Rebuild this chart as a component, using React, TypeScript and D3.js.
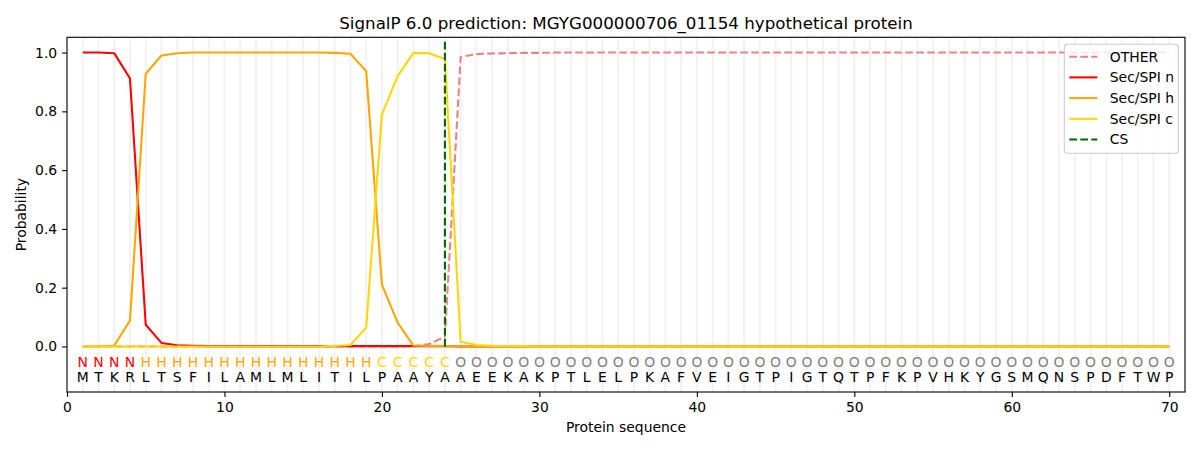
import { useRef, useEffect } from 'react';
import * as d3 from 'd3';

// residue sequence and predicted region per residue
const sequence = 'MTKRLTSFILAMLMLITILPAAYAAEEKAKPTLELPKAFVEIGTPIGTQTPFKPVHKYGSMQNSPDFTWP'.split('');
const regions = 'NNNNHHHHHHHHHHHHHHHCCCCCOOOOOOOOOOOOOOOOOOOOOOOOOOOOOOOOOOOOOOOOOOOOOO'.split('');

const otherProb = [
    0, 0, 0, 0, 0, 0, 0, 0, 0, 0,
    0, 0, 0, 0, 0, 0, 0, 0, 0, 0,
    0, 0.001, 0.008, 0.033, 0.985, 0.995, 0.997, 0.998, 0.999, 0.999,
    1, 1, 1, 1, 1, 1, 1, 1, 1, 1,
    1, 1, 1, 1, 1, 1, 1, 1, 1, 1,
    1, 1, 1, 1, 1, 1, 1, 1, 1, 1,
    1, 1, 1, 1, 1, 1, 1, 1, 1, 1,
];
const nProb = [
    1, 1, 0.998, 0.912, 0.074, 0.012, 0.004, 0.002, 0.001, 0.001,
    0.001, 0.001, 0.001, 0.001, 0.001, 0.001, 0.001, 0.001, 0.001, 0.001,
    0.001, 0.001, 0.001, 0.001, 0, 0, 0, 0, 0, 0,
    0, 0, 0, 0, 0, 0, 0, 0, 0, 0,
    0, 0, 0, 0, 0, 0, 0, 0, 0, 0,
    0, 0, 0, 0, 0, 0, 0, 0, 0, 0,
    0, 0, 0, 0, 0, 0, 0, 0, 0, 0,
];
const hProb = [
    0, 0, 0.003, 0.088, 0.928, 0.99, 0.998, 1, 1, 1,
    1, 1, 1, 1, 1, 1, 0.999, 0.996, 0.937, 0.21,
    0.081, 0.003, 0.002, 0.001, 0, 0, 0, 0, 0, 0,
    0, 0, 0, 0, 0, 0, 0, 0, 0, 0,
    0, 0, 0, 0, 0, 0, 0, 0, 0, 0,
    0, 0, 0, 0, 0, 0, 0, 0, 0, 0,
    0, 0, 0, 0, 0, 0, 0, 0, 0, 0,
];
const cProb = [
    0, 0, 0, 0, 0, 0, 0, 0, 0, 0,
    0, 0, 0, 0, 0, 0, 0.002, 0.005, 0.064, 0.79,
    0.92, 0.999, 0.998, 0.978, 0.016, 0.005, 0.002, 0.001, 0.001, 0,
    0, 0, 0, 0, 0, 0, 0, 0, 0, 0,
    0, 0, 0, 0, 0, 0, 0, 0, 0, 0,
    0, 0, 0, 0, 0, 0, 0, 0, 0, 0,
    0, 0, 0, 0, 0, 0, 0, 0, 0, 0,
];
const cleavageSite = 24;

const xTicks = [0, 10, 20, 30, 40, 50, 60, 70];
const yTicks = [0, 0.2, 0.4, 0.6, 0.8, 1.0];

const regionColor: Record<string, string> = { N: 'red', H: 'orange', C: 'gold', O: 'gray' };

const series = [
    { name: 'OTHER', values: otherProb, color: 'lightcoral', dash: '7.7,3.3' },
    { name: 'Sec/SPI n', values: nProb, color: 'red', dash: null },
    { name: 'Sec/SPI h', values: hProb, color: 'orange', dash: null },
    { name: 'Sec/SPI c', values: cProb, color: 'gold', dash: null },
];

const WIDTH = 1200;
const HEIGHT = 450;
const FONT = 'DejaVu Sans, sans-serif';

export default function App() {
    const svgRef = useRef<SVGSVGElement | null>(null);

    useEffect(() => {
        if (!svgRef.current) return;
        d3.select(svgRef.current).selectAll('*').remove();

        const margin = { top: 37.3, right: 15, bottom: 58, left: 67 };
        const innerWidth = WIDTH - margin.left - margin.right;
        const innerHeight = HEIGHT - margin.top - margin.bottom;

        const svg = d3.select(svgRef.current)
            .attr('width', WIDTH)
            .attr('height', HEIGHT)
            .style('font-family', FONT);

        svg.append('rect').attr('width', WIDTH).attr('height', HEIGHT).attr('fill', '#fff');

        const g = svg.append('g')
            .attr('transform', `translate(${margin.left},${margin.top})`);

        const xScale = d3.scaleLinear().domain([0, 71]).range([0, innerWidth]);
        const yScale = d3.scaleLinear().domain([-0.155, 1.052]).range([innerHeight, 0]);

        const positions = sequence.map((_, i) => i + 1);

        // light vertical guides at each residue
        g.selectAll('line.guide')
            .data(positions)
            .enter().append('line')
            .attr('class', 'guide')
            .attr('x1', d => xScale(d))
            .attr('x2', d => xScale(d))
            .attr('y1', 0)
            .attr('y2', innerHeight)
            .attr('stroke', '#f2f2f2')
            .attr('stroke-width', 2);

        // probability lines
        const line = d3.line<number>()
            .x((_, i) => xScale(i + 1))
            .y(d => yScale(d));

        series.forEach(s => {
            g.append('path')
                .datum(s.values)
                .attr('fill', 'none')
                .attr('stroke', s.color)
                .attr('stroke-width', 2.08)
                .attr('stroke-linejoin', 'round')
                .attr('stroke-dasharray', s.dash)
                .attr('d', line);
        });

        // cleavage site
        g.append('line')
            .attr('x1', xScale(cleavageSite))
            .attr('x2', xScale(cleavageSite))
            .attr('y1', yScale(0))
            .attr('y2', yScale(1.037))
            .attr('stroke', 'darkgreen')
            .attr('stroke-width', 2.08)
            .attr('stroke-dasharray', '7.7,3.3');

        // region letters and residue letters
        g.selectAll('text.region')
            .data(regions)
            .enter().append('text')
            .attr('class', 'region')
            .attr('x', (_, i) => xScale(i + 1))
            .attr('y', 366.7 - margin.top)
            .attr('text-anchor', 'middle')
            .attr('font-size', 13.9)
            .attr('fill', d => regionColor[d])
            .text(d => d);

        g.selectAll('text.residue')
            .data(sequence)
            .enter().append('text')
            .attr('class', 'residue')
            .attr('x', (_, i) => xScale(i + 1))
            .attr('y', 381.7 - margin.top)
            .attr('text-anchor', 'middle')
            .attr('font-size', 13.9)
            .attr('fill', '#000')
            .text(d => d);

        // axes
        const xAxis = g.append('g')
            .attr('transform', `translate(0,${innerHeight})`)
            .call(d3.axisBottom(xScale).tickValues(xTicks).tickFormat(d3.format('d')).tickSize(4.9).tickPadding(4.9));
        const yAxis = g.append('g')
            .call(d3.axisLeft(yScale).tickValues(yTicks).tickFormat(d3.format('.1f')).tickSize(4.9).tickPadding(4.9));

        [xAxis, yAxis].forEach(a => {
            a.select('.domain').remove();
            a.selectAll('line').attr('stroke', '#000').attr('stroke-width', 1.1);
            a.selectAll('text').attr('font-size', 13.9).attr('font-family', FONT).attr('fill', '#000');
        });

        // frame
        g.append('rect')
            .attr('width', innerWidth)
            .attr('height', innerHeight)
            .attr('fill', 'none')
            .attr('stroke', '#000')
            .attr('stroke-width', 1.1);

        // titles
        svg.append('text')
            .attr('x', margin.left + innerWidth / 2)
            .attr('y', 29)
            .attr('text-anchor', 'middle')
            .attr('font-size', 16.7)
            .text('SignalP 6.0 prediction: MGYG000000706_01154 hypothetical protein');

        svg.append('text')
            .attr('x', margin.left + innerWidth / 2)
            .attr('y', 432)
            .attr('text-anchor', 'middle')
            .attr('font-size', 13.9)
            .text('Protein sequence');

        svg.append('text')
            .attr('transform', `translate(26,${margin.top + innerHeight / 2}) rotate(-90)`)
            .attr('text-anchor', 'middle')
            .attr('font-size', 13.9)
            .text('Probability');

        // legend
        const legend = svg.append('g').attr('transform', 'translate(1064.3,44.3)');
        legend.append('rect')
            .attr('width', 114)
            .attr('height', 109)
            .attr('rx', 2.8)
            .attr('fill', '#fff')
            .attr('fill-opacity', 0.8)
            .attr('stroke', '#cccccc')
            .attr('stroke-width', 1.1);

        const legendItems = [
            ...series.map(s => ({ name: s.name, color: s.color, dash: s.dash })),
            { name: 'CS', color: 'darkgreen', dash: '7.7,3.3' },
        ];

        legendItems.forEach((item, i) => {
            const y = 12.4 + i * 20.7;
            legend.append('line')
                .attr('x1', 5)
                .attr('x2', 33)
                .attr('y1', y)
                .attr('y2', y)
                .attr('stroke', item.color)
                .attr('stroke-width', 2.08)
                .attr('stroke-dasharray', item.dash);
            legend.append('text')
                .attr('x', 45.5)
                .attr('y', y + 5)
                .attr('font-size', 13.9)
                .text(item.name);
        });
    }, []);

    return (
        <svg ref={svgRef} style={{ position: 'absolute', left: 0, top: 0 }} />
    );
}
